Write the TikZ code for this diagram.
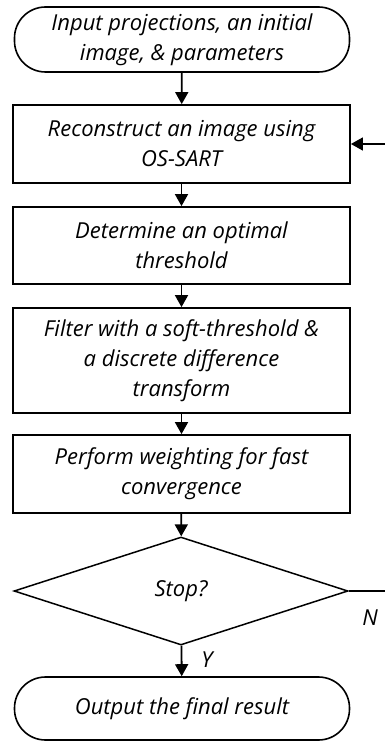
\documentclass[tikz,border=0pt]{standalone}
\usepackage{fontspec}
\setmainfont[Ligatures=NoCommon]{Open Sans}
\usetikzlibrary{arrows.meta,shapes.geometric}

\begin{document}
\begin{tikzpicture}[x=1pt,y=-1pt,
  txt/.style={font=\fontsize{22}{30}\selectfont\itshape, align=center, inner sep=0pt},
  stepbox/.style={txt, draw, line width=1.8pt, minimum width=337pt},
  terminal/.style={txt, draw, line width=1.6pt, rounded corners=31pt, minimum width=335pt},
  decision/.style={txt, draw, diamond, line width=1.5pt, minimum width=334pt, minimum height=108pt},
  flow/.style={line width=1.8pt, -{Triangle[length=12pt,width=13pt]}},
  plain/.style={line width=1.5pt}]
\useasboundingbox (0,0) rectangle (384,743);

\node[terminal, minimum height=65pt] (start) at (182,39.5) {Input projections, an initial\\image, \& parameters};
\node[stepbox, minimum height=78pt] (recon) at (181.5,144) {Reconstruct an image using\\OS-SART};
\node[stepbox, minimum height=77pt] (thresh) at (181.5,245.5) {Determine an optimal\\threshold};
\node[stepbox, minimum height=105pt] (filter) at (181.5,360.5) {Filter with a soft-threshold \&\\a discrete difference\\transform};
\node[stepbox, minimum height=78pt] (weight) at (181.5,474) {Perform weighting for fast\\convergence};
\node[decision] (stop) at (181,591) {Stop?};
\node[terminal, minimum height=63pt] (finish) at (182,708.5) {Output the final result};

\draw[flow] (start) -- (recon);
\draw[flow] (recon) -- (thresh);
\draw[flow] (thresh) -- (filter);
\draw[flow] (filter) -- (weight);
\draw[flow] (weight) -- (stop);
\draw[flow] (stop) -- (finish);
\node[txt] (ylab) at (207,660) {Y};

% loop back on the right, running past the edge
\coordinate (loopa) at (386,591);
\coordinate (loopb) at (386,144);
\draw[plain] (stop.east) -- (loopa);
\draw[flow, line width=1.5pt] (loopb) -- (recon.east);
\node[txt] (nlab) at (370,618) {N};
\end{tikzpicture}
\end{document}
